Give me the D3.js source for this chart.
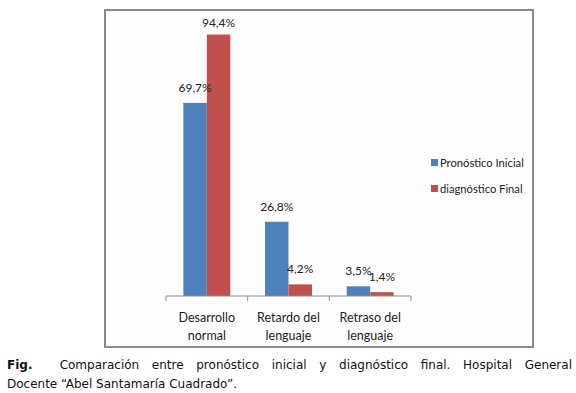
<html>
<head>
<script src="https://cdnjs.cloudflare.com/ajax/libs/d3/7.8.5/d3.min.js"></script>
<style>
    body { margin: 0; background: #fff; }
    #CHART { position: absolute; left: 0; top: 0; }
    #CAPTION {
        position: absolute; left: 7px; top: 356px; width: 565px;
        font-family: "DejaVu Sans", Verdana, sans-serif; font-size: 12px; line-height: 19px;
        color: #111;
    }
    #CAPTION .L1 { text-align: justify; text-align-last: justify; white-space: nowrap; }
    #CAPTION b { display: inline-block; width: 40px; }
</style>
</head>
<body>
<svg id="CHART" width="576" height="393"></svg>
<div id="CAPTION">
    <div class="L1"><b>Fig.</b> Comparación entre pronóstico inicial y diagnóstico final. Hospital General</div>
    <div>Docente “Abel Santamaría Cuadrado”.</div>
</div>
<script>
    var categories = [["Desarrollo", "normal"], ["Retardo del", "lenguaje"], ["Retraso del", "lenguaje"]];
    var seriesNames = ["Pronóstico Inicial", "diagnóstico Final"];
    var inicial = [69.7, 26.8, 3.5];
    var final = [94.4, 4.2, 1.4];
    var colors = ["#4f81bd", "#c0504d"];

    var FONT = "Lato, 'Open Sans', sans-serif";
    var svg = d3.select("#CHART");

    // chart frame
    svg.append("rect")
        .attr("x", 105).attr("y", 10).attr("width", 428).attr("height", 337)
        .attr("fill", "#fefefe").attr("stroke", "#8a8a8a").attr("stroke-width", 2);

    var plot = { left: 166, right: 411, top: 19, bottom: 296 };

    var x = d3.scaleBand()
        .domain(d3.range(categories.length))
        .range([plot.left, plot.right]);

    var xs = d3.scaleBand()
        .domain(d3.range(seriesNames.length))
        .range([0, x.bandwidth()])
        .paddingInner(0)
        .paddingOuter(0.74);

    var y = d3.scaleLinear().domain([0, 100]).range([plot.bottom, plot.top]);

    var rows = [];
    categories.forEach(function (c, i) {
        [inicial[i], final[i]].forEach(function (v, s) {
            rows.push({ cat: i, s: s, v: v });
        });
    });

    svg.append("g").selectAll("rect")
        .data(rows).enter().append("rect")
        .attr("x", function (d) { return x(d.cat) + xs(d.s); })
        .attr("y", function (d) { return y(d.v); })
        .attr("width", xs.bandwidth())
        .attr("height", function (d) { return y(0) - y(d.v); })
        .attr("fill", function (d) { return colors[d.s]; });

    svg.append("g").selectAll("text")
        .data(rows).enter().append("text")
        .attr("x", function (d) { return x(d.cat) + xs(d.s) + xs.bandwidth() / 2; })
        .attr("y", function (d) { return Math.max(y(d.v) - 11, plot.top + 8); })
        .attr("text-anchor", "middle")
        .attr("font-family", FONT).attr("font-size", 12).attr("fill", "#222")
        .text(function (d) { return d3.format(".1f")(d.v).replace(".", ",") + "%"; });

    // x axis
    var ax = svg.append("g").attr("transform", "translate(0," + plot.bottom + ")");
    ax.append("line").attr("x1", plot.left).attr("x2", plot.right)
        .attr("stroke", "#8a8a8a");
    ax.selectAll("line.tick")
        .data(d3.range(categories.length + 1)).enter().append("line")
        .attr("class", "tick")
        .attr("x1", function (i) { return plot.left + i * x.step(); })
        .attr("x2", function (i) { return plot.left + i * x.step(); })
        .attr("y1", 0).attr("y2", 5)
        .attr("stroke", "#8a8a8a");

    var lab = ax.selectAll("text.cat")
        .data(categories).enter().append("text")
        .attr("class", "cat")
        .attr("text-anchor", "middle")
        .attr("font-family", FONT).attr("font-size", 12.5).attr("fill", "#222")
        .attr("x", function (d, i) { return x(i) + x.bandwidth() / 2; });
    lab.selectAll("tspan")
        .data(function (d) { return d; }).enter().append("tspan")
        .attr("x", function () { return d3.select(this.parentNode).attr("x"); })
        .attr("y", function (d, j) { return 26 + j * 18; })
        .text(function (d) { return d; });

    // legend
    var leg = svg.append("g").attr("transform", "translate(431,159)")
        .selectAll("g").data(seriesNames).enter().append("g")
        .attr("transform", function (d, i) { return "translate(0," + i * 26 + ")"; });
    leg.append("rect").attr("width", 7).attr("height", 7)
        .attr("fill", function (d, i) { return colors[i]; });
    leg.append("text").attr("x", 9).attr("y", 8)
        .attr("font-family", FONT).attr("font-size", 11.2).attr("fill", "#222")
        .text(function (d) { return d; });
</script>
</body>
</html>
